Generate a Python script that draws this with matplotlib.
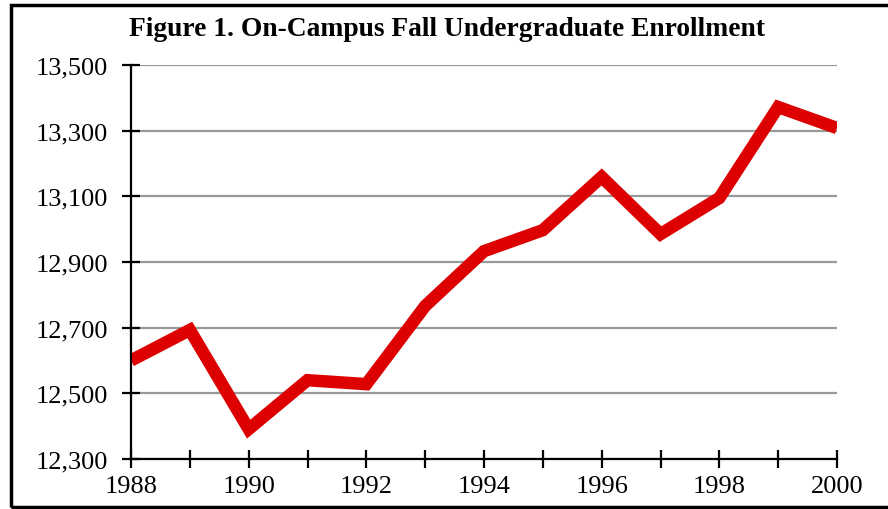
import matplotlib.pyplot as plt
from matplotlib.patches import Rectangle
from matplotlib.ticker import FuncFormatter

years = [1988, 1989, 1990, 1991, 1992, 1993, 1994, 1995, 1996, 1997, 1998, 1999, 2000]
enrollment = [12600, 12693, 12391, 12540, 12528, 12766, 12933, 12997, 13159, 12985, 13095, 13372, 13308]

plt.rcParams['font.family'] = ['Liberation Serif', 'DejaVu Serif']

fig = plt.figure(figsize=(8.88, 5.10), dpi=100)
ax = fig.add_axes([131/888, 1 - 460/510, (837 - 131)/888, (460 - 66)/510])

ax.plot(years, enrollment, color='#dd0000', linewidth=9, solid_joinstyle='miter',
        solid_capstyle='butt', zorder=3)

ax.set_xlim(1988, 2000)
ax.set_ylim(12300, 13500)
ax.set_xticks(range(1988, 2001))
ax.set_xticklabels([str(y) if y % 2 == 0 else '' for y in range(1988, 2001)])
ax.set_yticks(range(12300, 13501, 200))
ax.yaxis.set_major_formatter(FuncFormatter(lambda v, p: f'{int(v):,}'))

ax.grid(axis='y', color='#999999', linewidth=1.6, zorder=1)
for s in ['top', 'right']:
    ax.spines[s].set_visible(False)
for s in ['left', 'bottom']:
    ax.spines[s].set_linewidth(1.6)
    ax.spines[s].set_zorder(4)
ax.tick_params(axis='both', direction='inout', length=13, width=1.6, labelsize=19)
ax.tick_params(axis='y', pad=10)
ax.tick_params(axis='x', pad=5)

fig.text(447/888, 1 - 30/510, 'Figure 1. On-Campus Fall Undergraduate Enrollment',
         ha='center', va='center', fontsize=19.8, fontweight='bold')

fig.patches.append(Rectangle((11/888, 2/510), 1.0, 502/510, transform=fig.transFigure,
                             fill=False, edgecolor='black', linewidth=2.5))

fig.savefig('out.png', dpi=100)
